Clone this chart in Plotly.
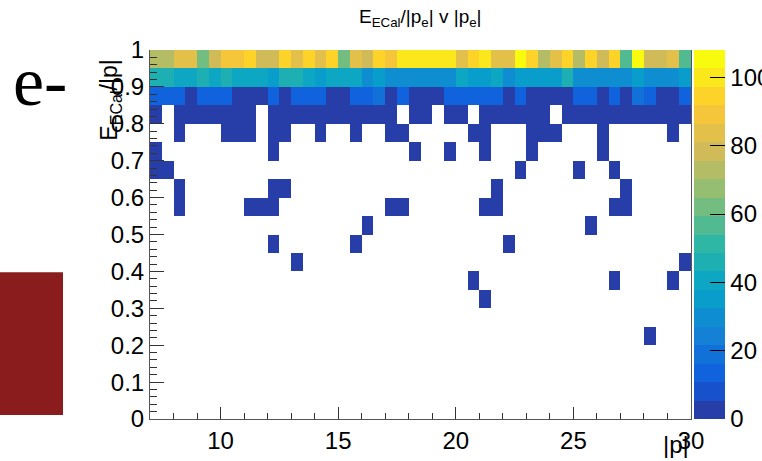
import numpy as np
import plotly.graph_objects as go

# ---------------- data ----------------
p_low, p_high, p_step = 7.0, 30.0, 0.5
r_low, r_high, r_step = 0.0, 1.0, 0.05

x_tick_vals = [10, 15, 20, 25, 30]
y_tick_vals = [0, 0.1, 0.2, 0.3, 0.4, 0.5, 0.6, 0.7, 0.8, 0.9, 1.0]
y_tick_text = ["0", "0.1", "0.2", "0.3", "0.4", "0.5", "0.6", "0.7", "0.8", "0.9", "1"]
z_tick_vals = [0, 20, 40, 60, 80, 100]

# full rows (counts per |p| bin, 46 bins from 7 to 30)
row_095_100 = [73, 73, 84, 84, 63, 78, 90, 90, 94, 78,
               80, 94, 84, 94, 84, 94, 63, 84, 78, 94,
               88, 100, 100, 100, 100, 100, 84, 94, 98, 84,
               84, 106, 94, 73, 84, 95, 73, 92, 80, 94,
               58, 106, 80, 80, 84, 55]
row_090_095 = [44, 44, 40, 40, 46, 40, 46, 40, 40, 40,
               35, 46, 46, 40, 35, 40, 40, 40, 30, 35,
               30, 30, 30, 30, 30, 30, 40, 35, 35, 40,
               30, 35, 35, 35, 35, 46, 30, 30, 32, 30,
               30, 33, 30, 32, 30, 33]
row_085_090 = [12, 12, 12, 4, 12, 12, 12, 4, 4, 4,
               12, 4, 12, 12, 12, 4, 4, 12, 12, 18,
               4, 12, 4, 4, 4, 12, 12, 12, 12, 12,
               4, 16, 4, 4, 4, 4, 12, 12, 4, 12,
               4, 18, 12, 4, 4, 12]
row_080_085 = [3, 0, 3, 3, 3, 3, 3, 3, 3, 0,
               3, 3, 3, 3, 3, 3, 3, 3, 3, 3,
               3, 0, 3, 3, 0, 3, 3, 0, 3, 3,
               3, 3, 3, 3, 0, 3, 3, 3, 3, 3,
               3, 3, 3, 3, 3, 3]
row_075_080 = [0, 0, 2, 0, 0, 0, 2, 2, 2, 0,
               2, 2, 0, 0, 2, 0, 0, 2, 0, 0,
               2, 2, 0, 0, 0, 0, 0, 2, 2, 0,
               0, 0, 2, 2, 2, 0, 0, 0, 2, 0,
               0, 0, 0, 0, 2, 0]

# sparse entries below 0.75: |p| value, E/|p| value, count
hit_p = [7.25, 12.25, 18.25, 19.75, 21.25, 23.25, 26.25,
         7.25, 7.75, 22.75, 25.25, 26.75,
         8.25, 12.25, 12.75, 21.75, 27.25,
         8.25, 11.25, 11.75, 12.25, 17.25, 17.75, 21.25, 21.75, 26.75, 27.25,
         16.25, 25.75,
         12.25, 15.75, 22.25,
         13.25, 29.75,
         20.75, 26.75, 29.25,
         21.25,
         28.25]
hit_ratio = [0.725] * 7 + [0.675] * 5 + [0.625] * 5 + [0.575] * 10 + \
            [0.525] * 2 + [0.475] * 3 + [0.425] * 2 + [0.375] * 3 + [0.325] + [0.225]
hit_count = [1] * len(hit_p)

# ---------------- build histogram ----------------
p_centers = np.arange(p_low, p_high, p_step) + p_step / 2
r_centers = np.arange(r_low, r_high - 1e-9, r_step) + r_step / 2
nx, ny = len(p_centers), len(r_centers)
Z = np.zeros((ny, nx))
Z[19, :] = row_095_100
Z[18, :] = row_090_095
Z[17, :] = row_085_090
Z[16, :] = row_080_085
Z[15, :] = row_075_080
for p, r, c in zip(hit_p, hit_ratio, hit_count):
    ix = int((p - p_low) // p_step)
    iy = int((r - r_low) // r_step)
    Z[iy, ix] += c
Zp = np.where(Z > 0, Z, np.nan)

# ---------------- kBird palette, 20 contour levels ----------------
stops = [0.0, 0.125, 0.25, 0.375, 0.5, 0.625, 0.75, 0.875, 1.0]
red = [0.2082, 0.0592, 0.0780, 0.0232, 0.1802, 0.5301, 0.8186, 0.9956, 0.9764]
green = [0.1664, 0.3599, 0.5041, 0.6419, 0.7178, 0.7492, 0.7328, 0.7862, 0.9832]
blue = [0.5293, 0.8684, 0.8385, 0.7914, 0.6425, 0.4662, 0.3499, 0.1968, 0.0539]
ndiv = 20
colorscale = []
for k in range(ndiv):
    idx = int((k + 0.99) * 255 / ndiv)
    f = min(idx / 254.0, 1.0)
    rr = np.interp(f, stops, red)
    gg = np.interp(f, stops, green)
    bb = np.interp(f, stops, blue)
    col = "rgb(%d,%d,%d)" % (round(rr * 255), round(gg * 255), round(bb * 255))
    colorscale.append([k / ndiv, col])
    colorscale.append([(k + 1) / ndiv, col])

FONT = "Liberation Sans, Arial, sans-serif"

fig = go.Figure()
fig.add_trace(go.Heatmap(
    x=p_centers, y=r_centers, z=Zp,
    zmin=0, zmax=108,
    colorscale=colorscale,
    hoverongaps=False,
    colorbar=dict(
        thickness=31, len=1, lenmode="fraction",
        x=1.0055, xanchor="left", y=0.5, yanchor="middle",
        xpad=0, ypad=0, outlinewidth=0,
        tickvals=z_tick_vals, ticks="inside", ticklen=15,
        tickcolor="black", tickwidth=1,
        tickfont=dict(size=24, family=FONT, color="black"),
    ),
))

fig.update_layout(
    width=762, height=461,
    margin=dict(l=150, r=71, t=50, b=42, autoexpand=False),
    paper_bgcolor="white", plot_bgcolor="white",
    showlegend=False,
    xaxis=dict(
        range=[p_low, p_high], tickvals=x_tick_vals,
        ticks="inside", ticklen=12, tickcolor="#333", tickwidth=1,
        minor=dict(dtick=1, ticks="inside", ticklen=6, tickcolor="#333"),
        showgrid=False, zeroline=False, automargin=False,
        showline=True, linecolor="#555", linewidth=1, mirror=False,
        tickfont=dict(size=24, family=FONT, color="black"),
    ),
    yaxis=dict(
        range=[r_low, r_high], tickvals=y_tick_vals, ticktext=y_tick_text,
        ticks="inside", ticklen=14, tickcolor="#333", tickwidth=1,
        minor=dict(dtick=0.02, ticks="inside", ticklen=7, tickcolor="#333"),
        showgrid=False, zeroline=False, automargin=False,
        showline=True, linecolor="#555", linewidth=1, mirror=True,
        tickfont=dict(size=24, family=FONT, color="black"),
    ),
    shapes=[dict(type="rect", xref="paper", yref="paper",
                 x0=-0.2773, x1=-0.1608, y0=0.0108, y1=0.398,
                 fillcolor="#8b1c1e", line=dict(width=0), layer="above")],
    annotations=[
        dict(text="E<sub>ECal</sub>/|p<sub>e</sub>| v |p<sub>e</sub>|",
             xref="paper", yref="paper", x=0.50, y=1.087,
             xanchor="center", yanchor="middle", showarrow=False,
             font=dict(size=19, family=FONT, color="black")),
        dict(text="E<sub>ECal</sub>/|p|", textangle=-90,
             xref="paper", yref="paper", x=-0.072, y=0.978,
             xanchor="center", yanchor="top", showarrow=False,
             font=dict(size=23, family=FONT, color="black")),
        dict(text="|p|", xref="paper", yref="paper", x=1.0, y=-0.07,
             xanchor="right", yanchor="middle", showarrow=False,
             font=dict(size=24, family=FONT, color="black")),
        dict(text="e-", xref="paper", yref="paper", x=-0.257, y=0.915,
             xanchor="left", yanchor="middle", showarrow=False,
             font=dict(size=70, family="Liberation Serif, Times New Roman, serif",
                       color="black")),
    ],
)

fig.write_html("out.html")
